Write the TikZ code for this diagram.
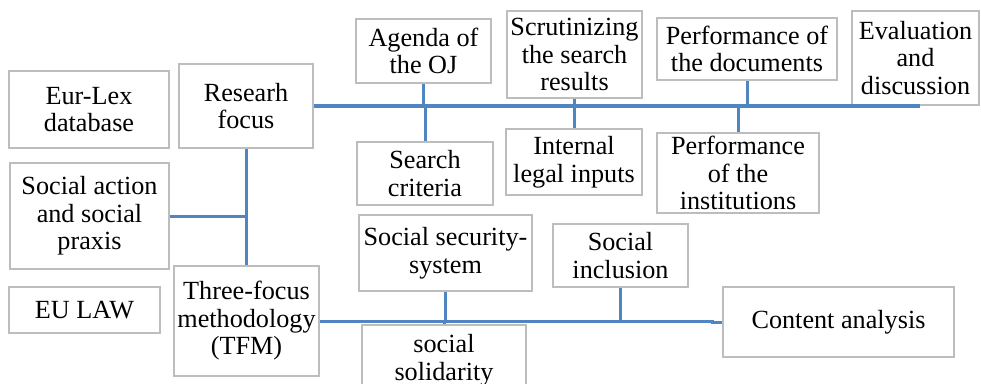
\documentclass[tikz,border=0pt]{standalone}
\usepackage{fontspec}
\setmainfont{Liberation Serif}
\definecolor{linkblue}{HTML}{4F86C2}
\definecolor{boxgray}{HTML}{BDBDBD}
\begin{document}
\begin{tikzpicture}[x=1pt,y=-1pt,
  box/.style={draw=boxgray,line width=1.8pt,fill=white,align=center,inner sep=0pt,
    font=\fontsize{26.2}{27.5}\selectfont},
  link/.style={draw=linkblue,line width=3pt},
  trunk/.style={link,line width=3.8pt}]
\useasboundingbox (0,0) rectangle (981,383);

% boxes: centre, width, height
\node[box,minimum width=160,minimum height=77] (eurlex) at (89,109.5) {Eur-Lex\\database};
\node[box,minimum width=134,minimum height=84] (research) at (246,106) {Researh\\focus};
\node[box,minimum width=135,minimum height=64] (agenda) at (423.5,51) {Agenda of\\the OJ};
\node[box,minimum width=135,minimum height=87] (scrut) at (574.5,54.5) {Scrutinizing\\the search\\results};
\node[box,minimum width=180,minimum height=62] (perfdoc) at (747,49) {Performance of\\the documents};
\node[box,minimum width=127,minimum height=94] (eval) at (915.5,58) {Evaluation\\and\\discussion};
\node[box,minimum width=136,minimum height=63] (search) at (425,173.5) {Search\\criteria};
\node[box,minimum width=136,minimum height=66] (internal) at (574,162) {Internal\\legal inputs};
\node[box,minimum width=162,minimum height=80] (perfinst) at (738,173) {Performance\\of the\\institutions};
\node[box,minimum width=159,minimum height=106] (action) at (89.5,216) {Social action\\and social\\praxis};
\node[box,minimum width=151,minimum height=46] (eulaw) at (84.5,310) {EU LAW};
\node[box,minimum width=145,minimum height=110] (tfm) at (246.5,321) {Three-focus\\methodology\\(TFM)};
\node[box,minimum width=173,minimum height=76] (secsys) at (445.5,253) {Social security-\\system};
\node[box,minimum width=135,minimum height=63] (inclusion) at (620.5,255.5) {Social\\inclusion};
\node[box,minimum width=231,minimum height=70] (content) at (838.5,322) {Content analysis};
\node[box,minimum width=164,minimum height=70] (solidarity) at (444,360) {social\\solidarity};

% free ends of the two trunk lines
\coordinate (mainend) at (920,106);
\coordinate (jog) at (712,321);

% upper trunk and its branches
\draw[link] (agenda.south) -- (agenda.south |- research.east);
\draw[link] (search.north) -- (search.north |- research.east);
\draw[link] (scrut.south) -- (scrut.south |- research.east);
\draw[link] (internal.north) -- (internal.north |- research.east);
\draw[link] (perfdoc.south) -- (perfdoc.south |- research.east);
\draw[link] (perfinst.north) -- (perfinst.north |- research.east);
\draw[trunk] (research.east) -- (mainend);

% vertical spine on the left
\draw[link] (research.south) -- (research.south |- tfm.north);
\draw[link] (action.east) -- (action.east -| research.south);

% lower trunk and its branches
\draw[link] (secsys.south) -- (secsys.south |- tfm.east);
\draw[link] (solidarity.north) -- (solidarity.north |- tfm.east);
\draw[link] (inclusion.south) -- (inclusion.south |- tfm.east);
\draw[link] (tfm.east) -- (tfm.east -| jog) |- (content.west);
\end{tikzpicture}
\end{document}
